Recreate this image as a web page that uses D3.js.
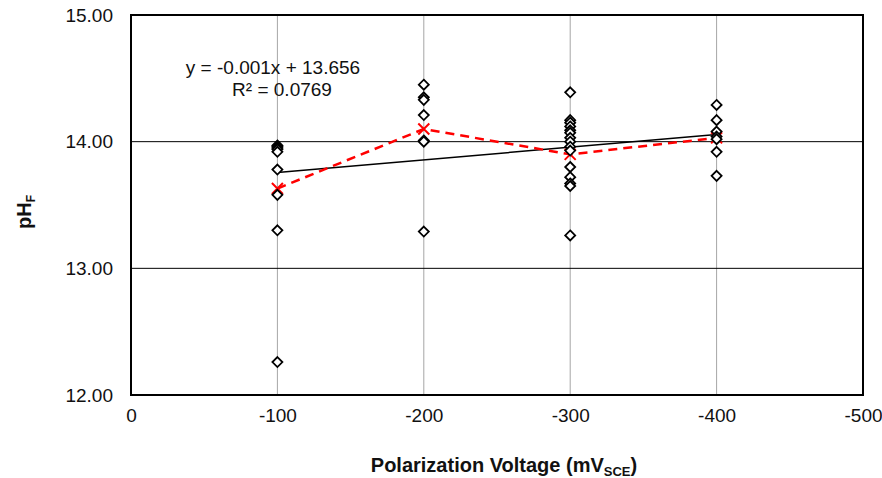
<!DOCTYPE html>
<html>
<head>
<meta charset="utf-8">
<script src="https://cdn.jsdelivr.net/npm/d3@7.9.0/dist/d3.min.js"></script>
<style>
  body { margin: 0; background: #fff; }
  svg { font-family: Arial, "Liberation Sans", sans-serif; }
</style>
</head>
<body>
<svg id="chart" width="882" height="478"></svg>
<script>
// measured pH at each polarization voltage
const voltages = [-100, -200, -300, -400];
const phByVoltage = [
  [13.97, 13.96, 13.95, 13.94, 13.92, 13.78, 13.58, 13.30, 12.26],
  [14.45, 14.35, 14.33, 14.21, 14.01, 14.00, 13.29],
  [14.39, 14.17, 14.15, 14.12, 14.09, 14.07, 14.03, 14.00, 13.96, 13.93, 13.80, 13.72, 13.67, 13.65, 13.26],
  [14.29, 14.17, 14.08, 14.04, 14.02, 13.92, 13.73]
];
// averages (red dashed series)
const meanPh = [13.63, 14.10, 13.90, 14.03];
// linear trendline shown on the chart
const slope = -0.001;
const intercept = 13.656;
const rSquared = 0.0769;

const xTicks = [0, -100, -200, -300, -400, -500];
const yTicks = [12, 13, 14, 15];

const svg = d3.select('#chart');
const m = { left: 131, right: 863, top: 15, bottom: 395 };

const x = d3.scaleLinear().domain([0, -500]).range([m.left, m.right]);
const y = d3.scaleLinear().domain([12, 15]).range([m.bottom, m.top]);

// vertical gridlines (gray)
svg.append('g')
  .selectAll('line')
  .data(xTicks.slice(1, -1))
  .join('line')
  .attr('x1', d => x(d)).attr('x2', d => x(d))
  .attr('y1', m.top).attr('y2', m.bottom)
  .attr('stroke', '#a6a6a6').attr('stroke-width', 1);

// horizontal gridlines (black)
svg.append('g')
  .selectAll('line')
  .data(yTicks.slice(1, -1))
  .join('line')
  .attr('x1', m.left).attr('x2', m.right)
  .attr('y1', d => y(d)).attr('y2', d => y(d))
  .attr('stroke', '#000').attr('stroke-width', 1);

// axes - just for tick labels (plain hyphen minus like the original)
const xAxis = svg.append('g')
  .attr('transform', `translate(0,${m.bottom})`)
  .call(d3.axisBottom(x).tickValues(xTicks).tickSize(0).tickPadding(14).tickFormat(d => String(d)));
xAxis.select('.domain').remove();
xAxis.selectAll('text').attr('font-size', 19).attr('fill', '#111').attr('font-family', 'Arial, "Liberation Sans", sans-serif');

const yAxis = svg.append('g')
  .attr('transform', `translate(${m.left},0)`)
  .call(d3.axisLeft(y).tickValues(yTicks).tickSize(0).tickPadding(18).tickFormat(d => d.toFixed(2)));
yAxis.select('.domain').remove();
yAxis.selectAll('text').attr('font-size', 19).attr('fill', '#111').attr('font-family', 'Arial, "Liberation Sans", sans-serif');

// plot frame
svg.append('rect')
  .attr('x', m.left).attr('y', m.top)
  .attr('width', m.right - m.left).attr('height', m.bottom - m.top)
  .attr('fill', 'none').attr('stroke', '#000').attr('stroke-width', 2);

// trendline
const xMin = d3.min(voltages), xMax = d3.max(voltages);
svg.append('line')
  .attr('x1', x(xMax)).attr('y1', y(slope * xMax + intercept))
  .attr('x2', x(xMin)).attr('y2', y(slope * xMin + intercept))
  .attr('stroke', '#000').attr('stroke-width', 1.5);

// mean line, red dashed
const meanData = voltages.map((v, i) => ({ v, ph: meanPh[i] }));
svg.append('path')
  .datum(meanData)
  .attr('d', d3.line().x(d => x(d.v)).y(d => y(d.ph)))
  .attr('fill', 'none')
  .attr('stroke', '#ff0000')
  .attr('stroke-width', 2.5)
  .attr('stroke-dasharray', '9,6');

// red X markers
const xs = 5.5;
svg.append('g')
  .selectAll('path')
  .data(meanData)
  .join('path')
  .attr('d', d => {
    const cx = x(d.v), cy = y(d.ph);
    return `M${cx - xs},${cy - xs}L${cx + xs},${cy + xs}M${cx - xs},${cy + xs}L${cx + xs},${cy - xs}`;
  })
  .attr('stroke', '#ff0000').attr('stroke-width', 2);

// diamonds
const points = voltages.flatMap((v, i) => phByVoltage[i].map(ph => ({ v, ph })));
const ds = 5;
svg.append('g')
  .selectAll('path')
  .data(points)
  .join('path')
  .attr('d', d => {
    const cx = x(d.v), cy = y(d.ph);
    return `M${cx},${cy - ds}L${cx + ds},${cy}L${cx},${cy + ds}L${cx - ds},${cy}Z`;
  })
  .attr('fill', '#fff').attr('stroke', '#000').attr('stroke-width', 1.8);

// equation
const eq = svg.append('text')
  .attr('text-anchor', 'middle')
  .attr('font-size', 19).attr('fill', '#111');
eq.append('tspan').attr('x', 273).attr('y', 74)
  .text(`y = ${slope.toFixed(3)}x + ${intercept.toFixed(3)}`);
eq.append('tspan').attr('x', 282).attr('y', 96)
  .text(`R² = ${rSquared}`);

// axis titles
const xt = svg.append('text')
  .attr('x', 504).attr('y', 472)
  .attr('text-anchor', 'middle')
  .attr('font-size', 20).attr('font-weight', 'bold').attr('fill', '#111');
xt.append('tspan').text('Polarization Voltage (mV');
xt.append('tspan').attr('font-size', 13).attr('dy', 4).text('SCE');
xt.append('tspan').attr('dy', -4).text(')');

const yt = svg.append('text')
  .attr('transform', 'translate(31,212) rotate(-90)')
  .attr('text-anchor', 'middle')
  .attr('font-size', 20).attr('font-weight', 'bold').attr('fill', '#111');
yt.append('tspan').text('pH');
yt.append('tspan').attr('font-size', 12).attr('dy', 4).text('F');
</script>
</body>
</html>
